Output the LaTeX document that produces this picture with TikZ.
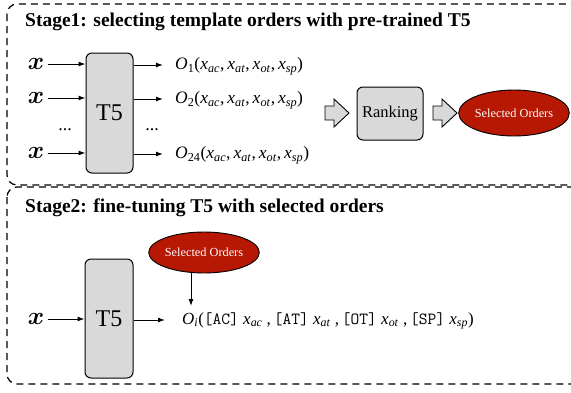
\documentclass[tikz,border=0pt]{standalone}
\usepackage{fontspec}
\setmainfont{Liberation Serif}
\usepackage{bm}
\usetikzlibrary{shapes.geometric,arrows.meta}
\newcommand{\xs}[1]{\textit{x}\textsubscript{\textit{#1}}}
\newcommand{\bigx}{{\fontsize{31}{31}\selectfont$\bm{x}$}}
\newcommand{\tg}[1]{{\fontfamily{lmtt}\selectfont[#1]}}
\definecolor{selred}{RGB}{182,24,4}
\definecolor{boxgray}{RGB}{217,217,217}
\tikzset{
  stagebox/.style={draw, dash pattern=on 7pt off 5pt, line width=1.2pt, rounded corners=10pt},
  title/.style={anchor=west, inner sep=0pt, font=\fontsize{19.5}{22}\selectfont\bfseries},
  t5box/.style={draw, fill=boxgray, line width=1pt, rounded corners=6pt, minimum width=47pt, minimum height=120pt, font=\fontsize{24}{26}\selectfont},
  rankbox/.style={draw, fill=boxgray, line width=1pt, rounded corners=6pt, minimum width=66pt, minimum height=53pt, font=\fontsize{16.5}{18}\selectfont},
  selell/.style={ellipse, draw, line width=0.9pt, fill=selred, text=white, inner sep=0pt, font=\fontsize{12.3}{14}\selectfont},
  olabel/.style={anchor=west, inner sep=0pt, font=\fontsize{17.5}{20}\selectfont},
  dots/.style={font=\fontsize{18}{20}\selectfont},
  arr/.style={-{Latex[length=7pt,width=5pt]}, line width=1pt},
  fat/.style={draw, fill=boxgray, line width=0.9pt},
}
\begin{document}
\begin{tikzpicture}[x=1pt,y=-1pt]
\useasboundingbox (0,0) rectangle (571,392);
% stage boxes
\draw[stagebox] (7,4) rectangle (585,185);
\draw[stagebox] (7,187) rectangle (585,384);
\node[title] (t1) at (25,22) {Stage1: selecting template orders with pre-trained T5};
\node[title] (t2) at (25,208) {Stage2: fine-tuning T5 with selected orders};
% stage 1
\node[t5box] (t5a) at (109.5,113) {T5};
\node (x1) at (36,64) {\bigx};
\node (x2) at (36,98) {\bigx};
\node (x3) at (36,153) {\bigx};
\node[dots] (d1) at (65,130) {...};
\node[dots] (d2) at (152,130) {...};
\draw[arr] (x1.east) -- (x1 -| t5a.west);
\draw[arr] (x2.east) -- (x2 -| t5a.west);
\draw[arr] (x3.east) -- (x3 -| t5a.west);
\node[olabel] (o1) at (175,66) {\textit{O}\textsubscript{1}(\xs{ac},\,\xs{at},\,\xs{ot},\,\xs{sp})};
\node[olabel] (o2) at (175,100) {\textit{O}\textsubscript{2}(\xs{ac},\,\xs{at},\,\xs{ot},\,\xs{sp})};
\node[olabel] (o3) at (175,155) {\textit{O}\textsubscript{24}(\xs{ac},\,\xs{at},\,\xs{ot},\,\xs{sp})};
\coordinate (e1) at (163,65);
\coordinate (e2) at (163,99);
\coordinate (e3) at (163,154);
\draw[arr] (t5a.east |- e1) -- (e1);
\draw[arr] (t5a.east |- e2) -- (e2);
\draw[arr] (t5a.east |- e3) -- (e3);
\node[rankbox] (rank) at (390,113.5) {Ranking};
\node[selell, minimum width=108pt, minimum height=46pt] (sel1) at (514,113) {Selected Orders};
\draw[fat] (325,106) -- (334,106) -- (334,99) -- (349,113) -- (334,127) -- (334,120) -- (325,120) -- cycle;
\draw[fat] (433,106) -- (442,106) -- (442,99) -- (457,113) -- (442,127) -- (442,120) -- (433,120) -- cycle;
% stage 2
\node[t5box, minimum width=48pt, minimum height=119pt] (t5b) at (109,318.5) {T5};
\node (x4) at (36,319) {\bigx};
\draw[arr] (x4.east) -- (x4 -| t5b.west);
\node[olabel, font=\fontsize{17}{20}\selectfont] (o4) at (182,321) {\textit{O}\textsubscript{\textit{i}}(\tg{AC} \xs{ac} ,\,\tg{AT} \xs{at} ,\,\tg{OT} \xs{ot} ,\,\tg{SP} \xs{sp})};
\coordinate (e4) at (165,320);
\draw[arr] (t5b.east |- e4) -- (e4);
\node[selell, minimum width=98pt, minimum height=41pt] (sel2) at (204,252.5) {Selected Orders};
\coordinate (tip) at (191,306);
\draw[arr] (sel2.south -| tip) ++(0,-1) -- (tip);
\end{tikzpicture}
\end{document}
